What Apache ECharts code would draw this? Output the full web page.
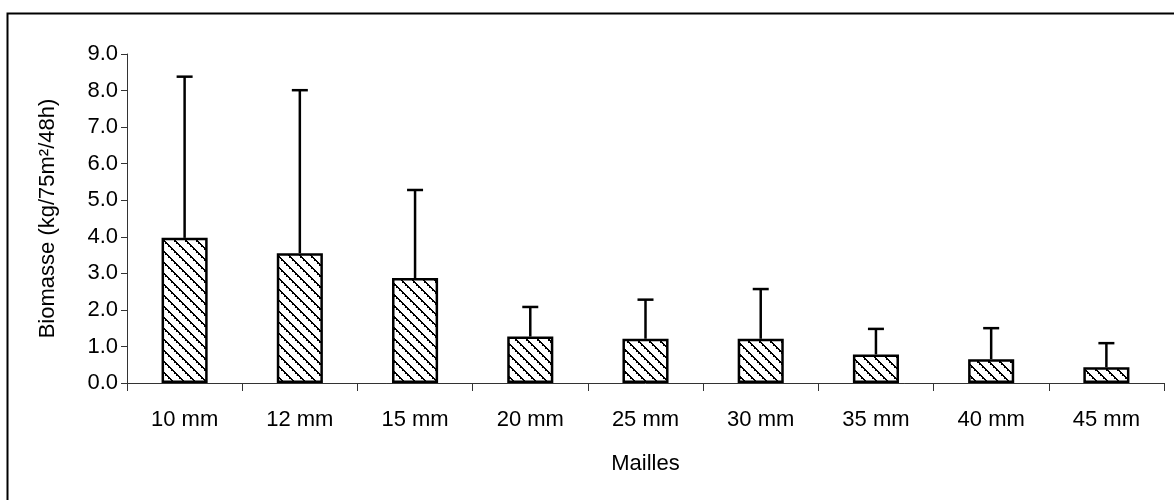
<!DOCTYPE html>
<html>
<head>
<meta charset="utf-8">
<script src="https://cdn.jsdelivr.net/npm/echarts@6/dist/echarts.min.js"></script>
<style>
  html, body { margin: 0; padding: 0; background: #fff; }
  #chart { width: 1174px; height: 500px; }
</style>
</head>
<body>
<div id="chart"></div>
<script>
// Mesh sizes (categories)
const categories = ['10 mm', '12 mm', '15 mm', '20 mm', '25 mm', '30 mm', '35 mm', '40 mm', '45 mm'];
// Mean biomass per mesh size (kg/75m²/48h)
const biomass = [3.97, 3.55, 2.87, 1.27, 1.21, 1.21, 0.78, 0.65, 0.43];
// Standard deviation (upper error bar)
const stdDev = [4.41, 4.46, 2.41, 0.81, 1.07, 1.36, 0.70, 0.85, 0.66];
// Y axis ticks
const yTicks = [0, 1, 2, 3, 4, 5, 6, 7, 8, 9];

const FONT = '"Liberation Sans", Arial, sans-serif';

// Downward diagonal hatch tile: thin diagonal with square dots
function hatchTile() {
  const n = 11;
  const c = document.createElement('canvas');
  c.width = n; c.height = n;
  const ctx = c.getContext('2d');
  ctx.fillStyle = '#fff';
  ctx.fillRect(0, 0, n, n);
  ctx.fillStyle = '#000';
  for (let i = 0; i < n; i++) {
    ctx.fillRect(i, i, 1, 1);
    ctx.fillRect((i + 1) % n, i, 1, 1);
  }
  for (let k = 0; k < n; k += 3) {
    ctx.fillRect(k, k, 2, 2);
  }
  return c;
}

const chart = echarts.init(document.getElementById('chart'), null, { renderer: 'canvas' });

const errorData = biomass.map((v, i) => [i, v, v + stdDev[i]]);

chart.setOption({
  backgroundColor: '#fff',
  animation: false,
  graphic: [{
    type: 'rect',
    shape: { x: 7.5, y: 13.5, width: 1300, height: 700 },
    style: { fill: 'none', stroke: '#000', lineWidth: 2 },
    silent: true,
    z: -10
  }],
  grid: { left: 127, right: 10, top: 54, bottom: 117, containLabel: false },
  xAxis: {
    type: 'category',
    data: categories,
    name: 'Mailles',
    nameLocation: 'middle',
    nameGap: 70,
    nameTextStyle: { fontFamily: FONT, fontSize: 22, color: '#000' },
    axisLine: { lineStyle: { color: '#333', width: 1 } },
    axisTick: { show: true, length: 8, alignWithLabel: false, lineStyle: { color: '#333' } },
    axisLabel: { fontFamily: FONT, fontSize: 22, color: '#000', margin: 26 }
  },
  yAxis: {
    type: 'value',
    min: yTicks[0],
    max: yTicks[yTicks.length - 1],
    interval: 1,
    name: 'Biomasse (kg/75m²/48h)',
    nameLocation: 'middle',
    nameGap: 68,
    nameTextStyle: { fontFamily: FONT, fontSize: 22, color: '#000' },
    axisLine: { show: true, lineStyle: { color: '#333', width: 1 } },
    axisTick: { show: true, length: 6, lineStyle: { color: '#333' } },
    splitLine: { show: false },
    axisLabel: { fontFamily: FONT, fontSize: 22, color: '#000', margin: 9, formatter: v => v.toFixed(1) }
  },
  series: [
    {
      type: 'bar',
      data: biomass,
      barWidth: '40%',
      itemStyle: {
        color: { image: hatchTile(), repeat: 'repeat' },
        borderColor: '#000',
        borderWidth: 2.5
      },
      z: 2
    },
    {
      type: 'custom',
      data: errorData,
      z: 3,
      renderItem: function (params, api) {
        const x = api.value(0);
        const base = api.coord([x, api.value(1)]);
        const top = api.coord([x, api.value(2)]);
        const half = 8;
        return {
          type: 'group',
          children: [
            { type: 'line', shape: { x1: base[0], y1: base[1], x2: top[0], y2: top[1] },
              style: { stroke: '#000', lineWidth: 2.5 } },
            { type: 'line', shape: { x1: top[0] - half, y1: top[1], x2: top[0] + half, y2: top[1] },
              style: { stroke: '#000', lineWidth: 2.5 } }
          ]
        };
      }
    }
  ]
});
</script>
</body>
</html>
